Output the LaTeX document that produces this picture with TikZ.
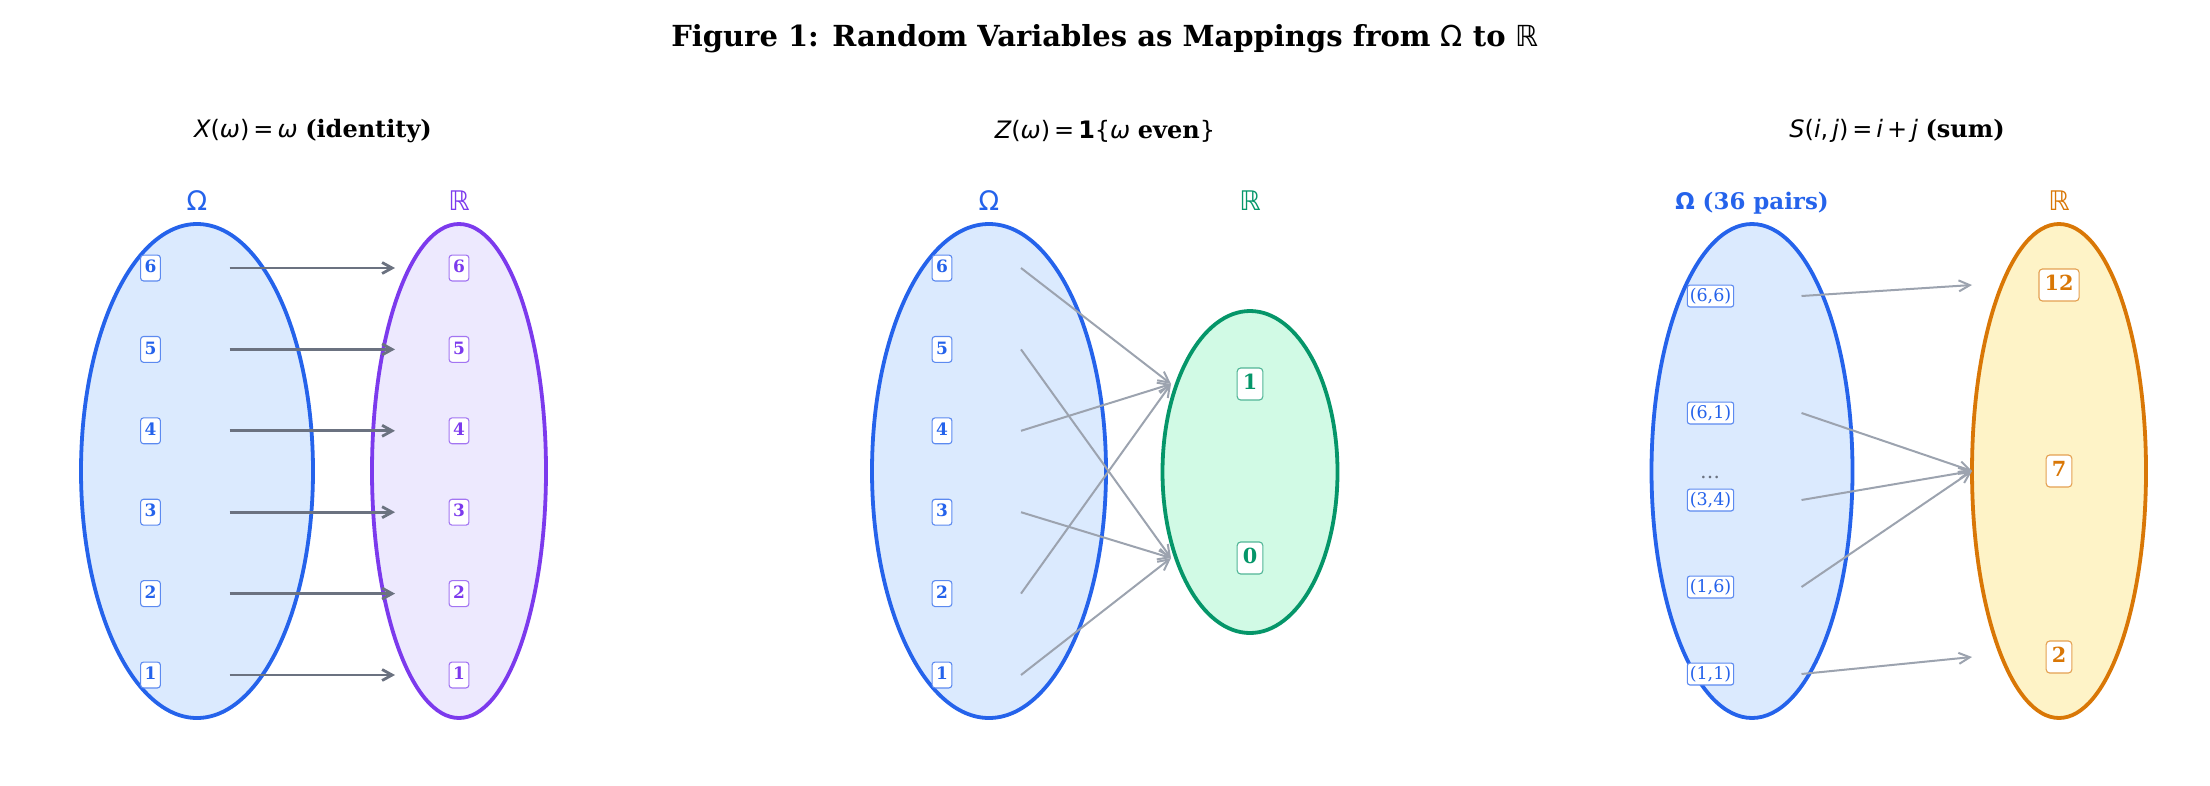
\documentclass[tikz,border=0pt]{standalone}
\usepackage{fontspec}
\setmainfont{DejaVu Serif}
\newfontfamily\dsans{DejaVu Sans}
\usetikzlibrary{arrows.meta,shapes.geometric,calc}
\definecolor{cblue}{HTML}{2563EB}
\definecolor{fblue}{HTML}{DBEAFE}
\definecolor{cpurple}{HTML}{7C3AED}
\definecolor{fpurple}{HTML}{EDE9FE}
\definecolor{cgreen}{HTML}{059669}
\definecolor{fgreen}{HTML}{D1FAE5}
\definecolor{corange}{HTML}{D97706}
\definecolor{forange}{HTML}{FEF3C7}
\definecolor{gdark}{HTML}{6B7280}
\definecolor{glight}{HTML}{9CA3AF}
\newcommand{\mi}[1]{{\dsans\mdseries\itshape #1}}
\newcommand{\mr}[1]{{\dsans\mdseries #1}}
\begin{document}
\begin{tikzpicture}[x=1pt,y=-1pt,
  setell/.style={ellipse, draw, line width=3.8pt, inner sep=0pt},
  lab/.style={draw, rounded corners=3pt, fill=white, line width=1.1pt,
    font=\bfseries\fontsize{17}{20}\selectfont,
    inner xsep=4pt, inner ysep=5pt, text height=12.6pt, text depth=3.3pt},
  biglab/.style={draw, rounded corners=3.5pt, fill=white, line width=1.1pt,
    font=\bfseries\fontsize{20.8}{24}\selectfont,
    inner xsep=5.6pt, inner ysep=6.2pt, text height=15.4pt, text depth=4.2pt},
  pairlab/.style={draw, rounded corners=2.5pt, fill=white, line width=1.1pt,
    font=\fontsize{17.5}{20}\selectfont, text=cblue, draw=cblue!75!white,
    inner xsep=2.4pt, inner ysep=3pt, text height=13.3pt, text depth=2.6pt},
  setname/.style={font=\dsans\fontsize{27}{30}\selectfont},
  subt/.style={font=\fontsize{24}{27}\selectfont},
  arrA/.style={draw=gdark, line width=2.8pt, -{Straight Barb[length=10pt,width=11pt]}},
  arrB/.style={draw=glight, line width=2pt, -{Straight Barb[length=11pt,width=11pt]}}
]
\useasboundingbox (0,0) rectangle (2210,785);

% title
\node[font=\bfseries\fontsize{29}{32}\selectfont] (title) at (1105,39)
  {Figure 1: Random Variables as Mappings from \mr{Ω} to \mr{ℝ}};

% ---------- panel 1 ----------
\node[subt] (sub1) at (313,131)
  {\mi{X}\mr{(}\mi{ω}\mr{)}\,\mr{=}\,\mi{ω} \textbf{(identity)}};
\node[setell, fill=fblue, draw=cblue, minimum width=232pt, minimum height=494pt] (om1) at (197,471) {};
\node[setell, fill=fpurple, draw=cpurple, minimum width=174pt, minimum height=494pt] (re1) at (459,471) {};
\node[setname, text=cblue] (omn1) at (197,201) {Ω};
\node[setname, text=cpurple] (ren1) at (459,201) {ℝ};
\foreach \k/\yy in {1/675,2/593.6,3/512.2,4/430.8,5/349.4,6/268}{
  \node[lab, text=cblue, draw=cblue!75!white] (a\k) at (150.5,\yy) {\k};
  \node[lab, text=cpurple, draw=cpurple!70!white] (b\k) at (459,\yy) {\k};
  \draw[arrA] ($(a\k)+(79,0)$) -- ($(b\k)+(-64,0)$);
}

% ---------- panel 2 ----------
\node[subt] (sub2) at (1105,131)
  {\mi{Z}\mr{(}\mi{ω}\mr{)}\,\mr{=}\,{\dsans\bfseries 1}\mr{\{}\mi{ω} \textbf{even}\mr{\}}};
\node[setell, fill=fblue, draw=cblue, minimum width=234pt, minimum height=494pt] (om2) at (989,471) {};
\node[setell, fill=fgreen, draw=cgreen, minimum width=175pt, minimum height=322pt] (re2) at (1250,472) {};
\node[setname, text=cblue] (omn2) at (989,201) {Ω};
\node[setname, text=cgreen] (ren2) at (1250,201) {ℝ};
\node[biglab, text=cgreen, draw=cgreen!70!white] (g1) at (1250,384) {1};
\node[biglab, text=cgreen, draw=cgreen!70!white] (g0) at (1250,558) {0};
\foreach \k/\yy/\t in {1/675/g0,2/593.6/g1,3/512.2/g0,4/430.8/g1,5/349.4/g0,6/268/g1}{
  \node[lab, text=cblue, draw=cblue!75!white] (c\k) at (942,\yy) {\k};
  \draw[arrB] ($(c\k)+(79,0)$) -- ($(\t)+(-79,0)$);
}

% ---------- panel 3 ----------
\node[subt] (sub3) at (1897,131)
  {\mi{S}\mr{(}\mi{i}\mr{,}\,\mi{j}\mr{)}\,\mr{=}\,\mi{i}\,\mr{+}\,\mi{j} \textbf{(sum)}};
\node[setell, fill=fblue, draw=cblue, minimum width=201pt, minimum height=494pt] (om3) at (1752,471) {};
\node[setell, fill=forange, draw=corange, minimum width=174pt, minimum height=494pt] (re3) at (2059,471) {};
\node[font=\bfseries\fontsize{22.9}{26}\selectfont, text=cblue] (omn3) at (1752,203) {{\dsans Ω} (36 pairs)};
\node[setname, text=corange] (ren3) at (2059,201) {ℝ};
\node[biglab, text=corange, draw=corange!70!white] (s12) at (2059,285) {12};
\node[biglab, text=corange, draw=corange!70!white] (s7) at (2059,471) {7};
\node[biglab, text=corange, draw=corange!70!white] (s2) at (2059,657) {2};
\node[font=\fontsize{20}{22}\selectfont, text=gdark] (dots) at (1710,477) {…};
\foreach \n/\lab/\yy/\t in {p66/{(6,6)}/296/s12, p61/{(6,1)}/413/s7, p34/{(3,4)}/500/s7, p16/{(1,6)}/587/s7, p11/{(1,1)}/674/s2}{
  \node[pairlab] (\n) at (1710.5,\yy) {\lab};
  \draw[arrB] ($(\n)+(91,0)$) -- ($(\t)+(-87,0)$);
}
\end{tikzpicture}
\end{document}
